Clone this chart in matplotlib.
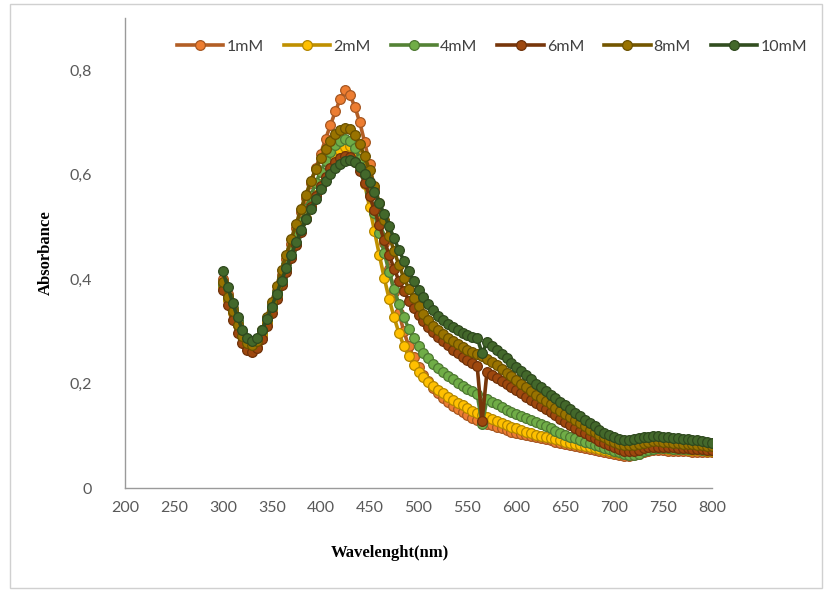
import matplotlib
matplotlib.use("Agg")
import matplotlib.pyplot as plt
import numpy as np
from matplotlib.colors import to_rgb
from matplotlib.patches import Rectangle
from matplotlib.ticker import FuncFormatter

# wavelength grid of the spectra (nm)
wavelength = np.arange(300, 801, 5)

abs_1mM = [
    0.400, 0.372, 0.345, 0.318, 0.293, 0.274, 0.263, 0.270, 0.290, 0.318,
    0.348, 0.378, 0.408, 0.438, 0.468, 0.498, 0.528, 0.556, 0.584, 0.612,
    0.640, 0.668, 0.695, 0.721, 0.745, 0.762, 0.752, 0.730, 0.700, 0.662,
    0.620, 0.572, 0.522, 0.470, 0.420, 0.375, 0.335, 0.300, 0.272, 0.250,
    0.232, 0.217, 0.204, 0.192, 0.181, 0.172, 0.164, 0.157, 0.151, 0.145,
    0.140, 0.135, 0.131, 0.127, 0.123, 0.120, 0.117, 0.114, 0.111, 0.108,
    0.106, 0.103, 0.101, 0.099, 0.097, 0.095, 0.093, 0.091, 0.089, 0.087,
    0.085, 0.083, 0.081, 0.079, 0.077, 0.075, 0.073, 0.071, 0.069, 0.067,
    0.065, 0.063, 0.062, 0.062, 0.063, 0.066, 0.069, 0.071, 0.072, 0.072,
    0.072, 0.071, 0.071, 0.070, 0.070, 0.070, 0.069, 0.069, 0.068, 0.068,
    0.068,
]
abs_2mM = [
    0.385, 0.360, 0.335, 0.312, 0.292, 0.278, 0.272, 0.278, 0.295, 0.318,
    0.343, 0.368, 0.393, 0.418, 0.443, 0.468, 0.493, 0.517, 0.540, 0.562,
    0.583, 0.603, 0.620, 0.634, 0.645, 0.653, 0.655, 0.645, 0.620, 0.582,
    0.538, 0.492, 0.446, 0.402, 0.362, 0.327, 0.297, 0.272, 0.252, 0.236,
    0.223, 0.212, 0.203, 0.195, 0.188, 0.181, 0.175, 0.169, 0.163, 0.158,
    0.153, 0.148, 0.144, 0.140, 0.136, 0.132, 0.128, 0.124, 0.120, 0.117,
    0.114, 0.111, 0.108, 0.105, 0.102, 0.099, 0.097, 0.095, 0.093, 0.091,
    0.089, 0.087, 0.085, 0.083, 0.081, 0.079, 0.077, 0.075, 0.073, 0.071,
    0.069, 0.067, 0.066, 0.066, 0.067, 0.070, 0.073, 0.075, 0.076, 0.076,
    0.076, 0.075, 0.075, 0.074, 0.074, 0.073, 0.073, 0.072, 0.072, 0.071,
    0.071,
]
abs_4mM = [
    0.390, 0.366, 0.342, 0.320, 0.300, 0.286, 0.280, 0.286, 0.302, 0.325,
    0.350, 0.376, 0.402, 0.428, 0.455, 0.482, 0.509, 0.535, 0.560, 0.584,
    0.606, 0.626, 0.643, 0.656, 0.665, 0.669, 0.665, 0.652, 0.630, 0.600,
    0.565, 0.527, 0.488, 0.450, 0.414, 0.381, 0.352, 0.327, 0.305, 0.287,
    0.272, 0.259, 0.248, 0.238, 0.230, 0.222, 0.215, 0.208, 0.202, 0.196,
    0.190, 0.185, 0.180, 0.122, 0.170, 0.165, 0.160, 0.155, 0.150, 0.146,
    0.142, 0.138, 0.134, 0.130, 0.126, 0.122, 0.118, 0.114, 0.110, 0.106,
    0.102, 0.098, 0.095, 0.092, 0.089, 0.086, 0.083, 0.080, 0.077, 0.074,
    0.071, 0.068, 0.065, 0.063, 0.063, 0.066, 0.070, 0.073, 0.075, 0.076,
    0.076, 0.076, 0.075, 0.075, 0.075, 0.074, 0.074, 0.074, 0.073, 0.073,
    0.073,
]
abs_6mM = [
    0.380, 0.350, 0.322, 0.297, 0.277, 0.264, 0.260, 0.268, 0.286, 0.310,
    0.336, 0.362, 0.388, 0.414, 0.440, 0.466, 0.491, 0.515, 0.538, 0.559,
    0.578, 0.596, 0.612, 0.624, 0.632, 0.636, 0.634, 0.624, 0.607, 0.585,
    0.560, 0.532, 0.503, 0.474, 0.446, 0.420, 0.397, 0.377, 0.359, 0.344,
    0.331, 0.319, 0.308, 0.298, 0.289, 0.281, 0.273, 0.265, 0.258, 0.251,
    0.245, 0.239, 0.233, 0.128, 0.223, 0.217, 0.211, 0.205, 0.199, 0.193,
    0.187, 0.181, 0.175, 0.169, 0.163, 0.157, 0.151, 0.145, 0.139, 0.133,
    0.127, 0.121, 0.115, 0.110, 0.105, 0.100, 0.095, 0.090, 0.086, 0.082,
    0.078, 0.074, 0.071, 0.070, 0.071, 0.073, 0.076, 0.078, 0.079, 0.079,
    0.079, 0.078, 0.078, 0.077, 0.076, 0.076, 0.075, 0.074, 0.074, 0.073,
    0.072,
]
abs_8mM = [
    0.395, 0.366, 0.338, 0.312, 0.291, 0.277, 0.273, 0.282, 0.302, 0.328,
    0.357, 0.387, 0.417, 0.447, 0.477, 0.506, 0.535, 0.562, 0.588, 0.611,
    0.632, 0.650, 0.665, 0.677, 0.686, 0.690, 0.687, 0.676, 0.658, 0.635,
    0.608, 0.578, 0.546, 0.514, 0.483, 0.454, 0.427, 0.403, 0.382, 0.364,
    0.348, 0.334, 0.322, 0.311, 0.302, 0.294, 0.287, 0.281, 0.275, 0.270,
    0.265, 0.261, 0.257, 0.252, 0.247, 0.241, 0.235, 0.228, 0.221, 0.214,
    0.207, 0.200, 0.193, 0.186, 0.179, 0.172, 0.166, 0.160, 0.154, 0.148,
    0.142, 0.136, 0.130, 0.124, 0.118, 0.112, 0.107, 0.102, 0.097, 0.092,
    0.088, 0.085, 0.083, 0.082, 0.083, 0.085, 0.087, 0.089, 0.090, 0.090,
    0.089, 0.088, 0.087, 0.086, 0.085, 0.085, 0.084, 0.083, 0.082, 0.081,
    0.080,
]
abs_10mM = [
    0.415, 0.385, 0.355, 0.327, 0.303, 0.287, 0.281, 0.287, 0.302, 0.323,
    0.347, 0.372, 0.397, 0.422, 0.447, 0.471, 0.494, 0.515, 0.535, 0.554,
    0.572, 0.588, 0.602, 0.613, 0.621, 0.626, 0.628, 0.624, 0.615, 0.602,
    0.586, 0.567, 0.546, 0.524, 0.501, 0.478, 0.456, 0.435, 0.415, 0.397,
    0.380, 0.365, 0.352, 0.340, 0.330, 0.322, 0.315, 0.308, 0.302, 0.297,
    0.293, 0.290, 0.287, 0.258, 0.279, 0.272, 0.264, 0.256, 0.248, 0.240,
    0.232, 0.224, 0.216, 0.208, 0.200, 0.193, 0.186, 0.179, 0.172, 0.165,
    0.158, 0.151, 0.144, 0.137, 0.130, 0.124, 0.118, 0.112, 0.106, 0.101,
    0.097, 0.094, 0.092, 0.092, 0.093, 0.095, 0.097, 0.098, 0.099, 0.099,
    0.098, 0.097, 0.096, 0.095, 0.094, 0.093, 0.092, 0.091, 0.090, 0.088,
    0.086,
]

series_labels = ["1mM", "2mM", "4mM", "6mM", "8mM", "10mM"]
series_values = [abs_1mM, abs_2mM, abs_4mM, abs_6mM, abs_8mM, abs_10mM]
series_colors = ["#ED7D31", "#FFC000", "#70AD47", "#9E480E", "#997300", "#43682B"]

x_ticks = list(range(200, 801, 50))
y_ticks = [0, 0.2, 0.4, 0.6, 0.8]


def darker(c, f=0.65):
    r, g, b = to_rgb(c)
    return (r * f, g * f, b * f)


fig = plt.figure(figsize=(8.25, 5.92), dpi=100)
fig.patches.append(Rectangle((10 / 825, 4 / 592), 812 / 825, 584 / 592, transform=fig.transFigure,
                             fill=False, edgecolor="#D0D0D0", linewidth=1.0))
ax = fig.add_axes([125 / 825, 1 - 488 / 592, 587 / 825, 470 / 592])

for lab, vals, col in zip(series_labels, series_values, series_colors):
    ax.plot(wavelength, vals, "-o", color=darker(col, 0.75), lw=2.6, marker="o", ms=7,
            mfc=col, mec=darker(col, 0.7), mew=0.9, label=lab)

ax.set_xlim(200, 800)
ax.set_ylim(0, 0.9)
ax.set_xticks(x_ticks)
ax.set_yticks(y_ticks)
ax.yaxis.set_major_formatter(FuncFormatter(lambda v, p: "0" if v == 0 else f"{v:.1f}".replace(".", ",")))
for s in ["top", "right"]:
    ax.spines[s].set_visible(False)
for s in ["left", "bottom"]:
    ax.spines[s].set_color("#9A9A9A")
    ax.spines[s].set_linewidth(1.0)
ax.tick_params(axis="both", length=0, labelsize=11.5, labelcolor="#595959")
ax.tick_params(axis="y", pad=24)
ax.tick_params(axis="x", pad=9)
for t in ax.get_xticklabels() + ax.get_yticklabels():
    t.set_fontfamily("Lato")

ax.set_ylabel("Absorbance", fontsize=12, fontweight="bold", family="Liberation Serif")
ax.yaxis.set_label_coords(-0.122, 0.5)
fig.text(390 / 825, 1 - 553 / 592, "Wavelenght(nm)", ha="center", va="center",
         fontsize=12, fontweight="bold", family="Liberation Serif")

leg = fig.legend(loc="center", bbox_to_anchor=(492 / 825, 1 - 47 / 592), ncol=6, frameon=False,
                 handlelength=2.9, handletextpad=0.2, columnspacing=1.25,
                 prop={"family": "Lato", "size": 11.5})
for t in leg.get_texts():
    t.set_color("#404040")

plt.savefig("out.png", dpi=100)
plt.close()
